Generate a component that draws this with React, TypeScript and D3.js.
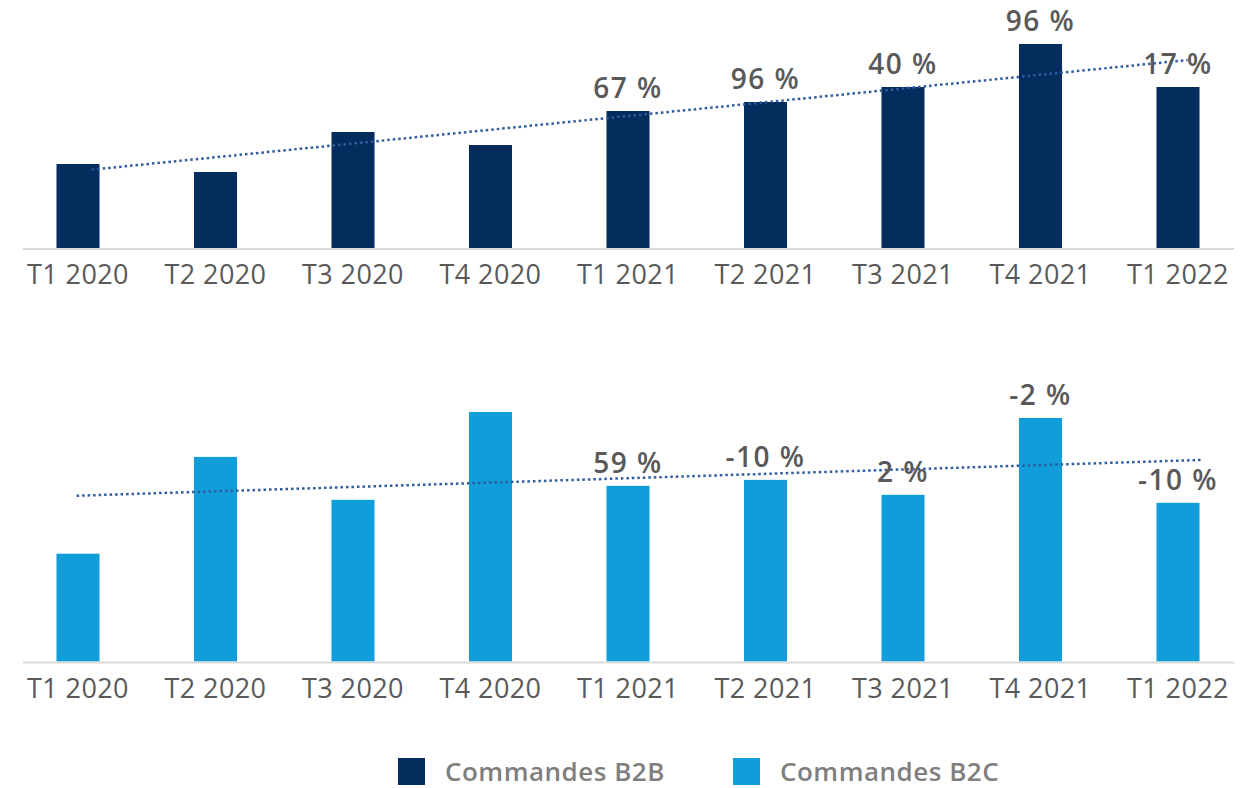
import React from "react";
import * as d3 from "d3";

const categories = ["T1 2020", "T2 2020", "T3 2020", "T4 2020", "T1 2021", "T2 2021", "T3 2021", "T4 2021", "T1 2022"];
const b2bValues = [84, 76, 116, 103, 137, 146, 161, 204, 161];
const b2cValues = [108, 205, 162, 250, 176, 182, 167, 244, 159];
const b2bLabels = ["", "", "", "", "67 %", "96 %", "40 %", "96 %", "17 %"];
const b2cLabels = ["", "", "", "", "59 %", "-10 %", "2 %", "-2 %", "-10 %"];
const seriesNames = ["Commandes B2B", "Commandes B2C"];

const W = 1244;
const H = 788;
const NAVY = "#042D5E";
const SKY = "#109DD9";
const TEXT = "#595959";
const FONT = "'Open Sans', 'Noto Sans', sans-serif";

function regression(vals: number[]) {
  const xs = vals.map((_, i) => i);
  const mx = d3.mean(xs) as number;
  const my = d3.mean(vals) as number;
  const sxy = d3.sum(xs, (x, i) => (x - mx) * (vals[i] - my));
  const sxx = d3.sum(xs, (x) => (x - mx) * (x - mx));
  const slope = sxy / sxx;
  const intercept = my - slope * mx;
  return (x: number) => intercept + slope * x;
}

type PanelProps = {
  values: number[];
  labels: string[];
  color: string;
  baseline: number;
  top: number;
  trendFrom: number;
  trendTo: number;
};

function Panel({ values, labels, color, baseline, top, trendFrom, trendTo }: PanelProps) {
  const x = d3
    .scaleBand<string>()
    .domain(categories)
    .range([9.25, 1246.75])
    .paddingInner(0.687)
    .paddingOuter(0.3435);
  const maxV = d3.max(values) as number;
  const y = d3.scaleLinear().domain([0, maxV]).range([baseline, top]);
  const step = x.step();
  const c0 = (x(categories[0]) as number) + x.bandwidth() / 2;
  const xi = d3.scaleLinear().domain([0, 1]).range([c0, c0 + step]);
  const fit = regression(values);
  const trend = d3
    .line<number>()
    .x((d) => xi(d))
    .y((d) => y(fit(d)));

  return (
    <g>
      {categories.map((c, i) => (
        <rect
          key={c}
          x={x(c)}
          y={y(values[i])}
          width={x.bandwidth()}
          height={baseline - y(values[i])}
          fill={color}
        />
      ))}
      <line x1={23} x2={1234} y1={baseline + 1} y2={baseline + 1} stroke="#D9D9D9" strokeWidth={2} />
      <path
        d={trend([trendFrom, trendTo]) || ""}
        fill="none"
        stroke="#2E5C9E"
        strokeWidth={2.5}
        strokeDasharray="2.5 3"
      />
      {categories.map((c, i) => (
        <text
          key={"l" + c}
          x={(x(c) as number) + x.bandwidth() / 2}
          y={baseline + 36}
          textAnchor="middle"
          fontFamily={FONT}
          fontSize={27}
          letterSpacing={0.4}
          fill={TEXT}
        >
          {c}
        </text>
      ))}
      {categories.map((c, i) =>
        labels[i] ? (
          <text
            key={"v" + c}
            x={(x(c) as number) + x.bandwidth() / 2}
            y={y(values[i]) - 13}
            textAnchor="middle"
            fontFamily={FONT}
            fontWeight={600}
            fontSize={28}
            letterSpacing={1.5}
            fill={TEXT}
          >
            {labels[i]}
          </text>
        ) : null
      )}
    </g>
  );
}

export default function App() {
  const legendColors = [NAVY, SKY];
  const legendX = d3.scaleOrdinal<string, number>().domain(seriesNames).range([398, 733]);
  return (
    <svg
      width={W}
      height={H}
      viewBox={`0 0 ${W} ${H}`}
      style={{ position: "absolute", left: 0, top: 0, background: "#fff" }}
    >
      <rect width={W} height={H} fill="#fff" />
      <Panel values={b2bValues} labels={b2bLabels} color={NAVY} baseline={248} top={44} trendFrom={0.1} trendTo={8.07} />
      <Panel values={b2cValues} labels={b2cLabels} color={SKY} baseline={661.5} top={412} trendFrom={-0.01} trendTo={8.17} />
      {seriesNames.map((s, i) => (
        <g key={s} transform={`translate(${legendX(s)},758)`}>
          <rect width={27} height={27} fill={legendColors[i]} />
          <text x={47} y={23} fontFamily={FONT} fontWeight={600} fontSize={26} letterSpacing={0.5} fill="#7F7F7F">
            {s}
          </text>
        </g>
      ))}
    </svg>
  );
}
